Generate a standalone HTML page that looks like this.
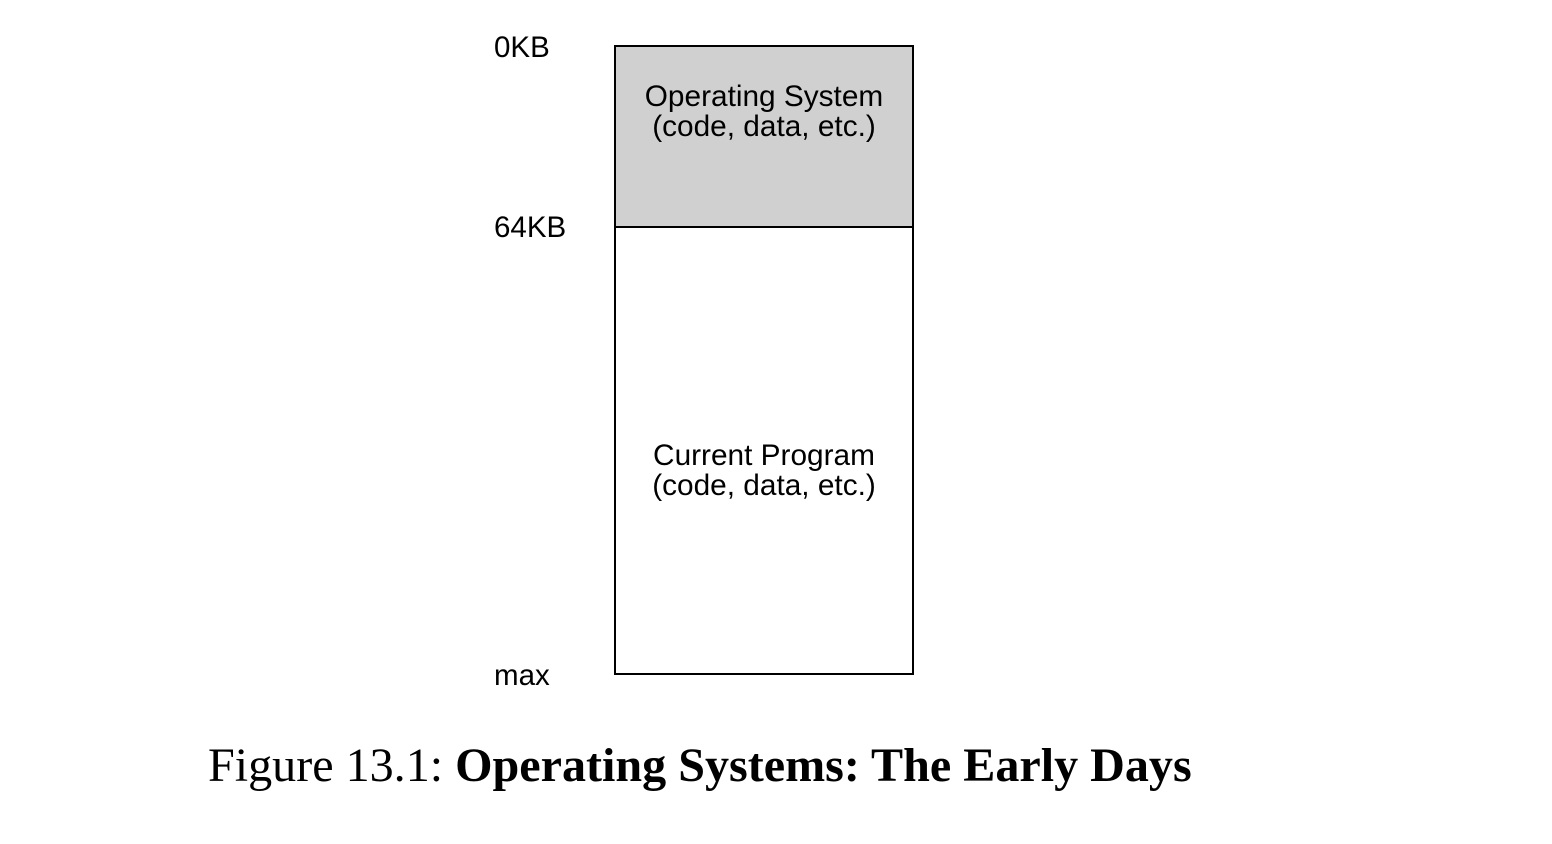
<!DOCTYPE html>
<html><head><meta charset="utf-8"><style>
body{margin:0;width:1552px;height:844px;background:#fff;position:relative;overflow:hidden;font-family:"Liberation Sans",Arial,sans-serif;}
.l{position:absolute;font-size:29.5px;line-height:30px;color:#000;white-space:nowrap}
.box{position:absolute;left:614px;top:45px;width:296px;height:626px;border:2px solid #000;}
.os{position:absolute;left:0;top:0;width:296px;height:179px;background:#d0d0d0;border-bottom:2px solid #000;}
.c{position:absolute;width:296px;text-align:center;font-size:29.8px;line-height:30px;}
.cap{position:absolute;left:208px;top:737px;font-family:"Liberation Serif",serif;font-size:48.1px;line-height:58px;white-space:nowrap}
</style></head><body>
<div class="l" style="left:494px;top:33px">0KB</div>
<div class="l" style="left:494px;top:213px">64KB</div>
<div class="l" style="left:494px;top:661px">max</div>
<div class="box">
<div class="os"></div>
<div class="c" style="top:35px">Operating System<br>(code, data, etc.)</div>
<div class="c" style="top:394px">Current Program<br>(code, data, etc.)</div>
</div>
<div class="cap">Figure 13.1: <b>Operating Systems: The Early Days</b></div>
</body></html>
